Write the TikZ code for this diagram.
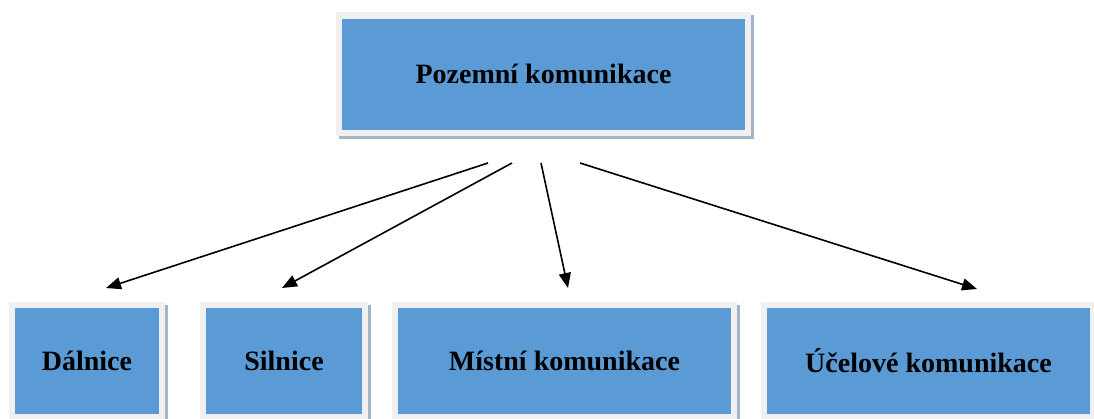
\documentclass[tikz,border=0pt]{standalone}
\usepackage{fontspec}
\setmainfont{Liberation Serif}
\usetikzlibrary{arrows.meta,backgrounds}
\definecolor{boxblue}{HTML}{5B9BD5}
\definecolor{boxframe}{HTML}{F0F0F0}
\definecolor{boxshadow}{HTML}{A3B3C9}
\tikzset{
  box/.style={fill=boxblue, inner sep=0pt, font=\fontsize{28}{30}\selectfont\bfseries, text=black},
  conn/.style={line width=1.6pt, -{Triangle[length=15pt,width=12pt]}},
}
\newcommand{\boxback}[1]{%
  \fill[boxshadow] ([shift={(-3,-3)}]#1.north west) rectangle ([shift={(9,9)}]#1.south east);
  \fill[boxframe] ([shift={(-6,-6)}]#1.north west) rectangle ([shift={(6,6)}]#1.south east);
}
\begin{document}
\begin{tikzpicture}[x=1pt,y=-1pt]
\useasboundingbox (0,0) rectangle (1094,418);
\clip (0,0) rectangle (1094,418);
\node[box, minimum width=403pt, minimum height=111pt] (top) at (543.5,74) {Pozemní komunikace};
\node[box, minimum width=144pt, minimum height=106pt] (dal) at (87,361) {Dálnice};
\node[box, minimum width=156pt, minimum height=106pt] (sil) at (284,361) {Silnice};
\node[box, minimum width=333pt, minimum height=106pt] (mis) at (564.5,361) {Místní komunikace};
\node[box, minimum width=323pt, minimum height=106pt] (uce) at (928.5,361) {Účelové komunikace};
\begin{scope}[on background layer]
  \boxback{top}
  \boxback{dal}
  \boxback{sil}
  \boxback{mis}
  \boxback{uce}
\end{scope}
\coordinate (s1) at (488,163);
\coordinate (s2) at (512,163);
\coordinate (s3) at (541,163);
\coordinate (s4) at (580,163);
\coordinate (e1) at (106,288);
\coordinate (e2) at (282,288);
\coordinate (e3) at (568,288);
\coordinate (e4) at (977,289);
\draw[conn] (s1) -- (e1);
\draw[conn] (s2) -- (e2);
\draw[conn] (s3) -- (e3);
\draw[conn] (s4) -- (e4);
\end{tikzpicture}
\end{document}
